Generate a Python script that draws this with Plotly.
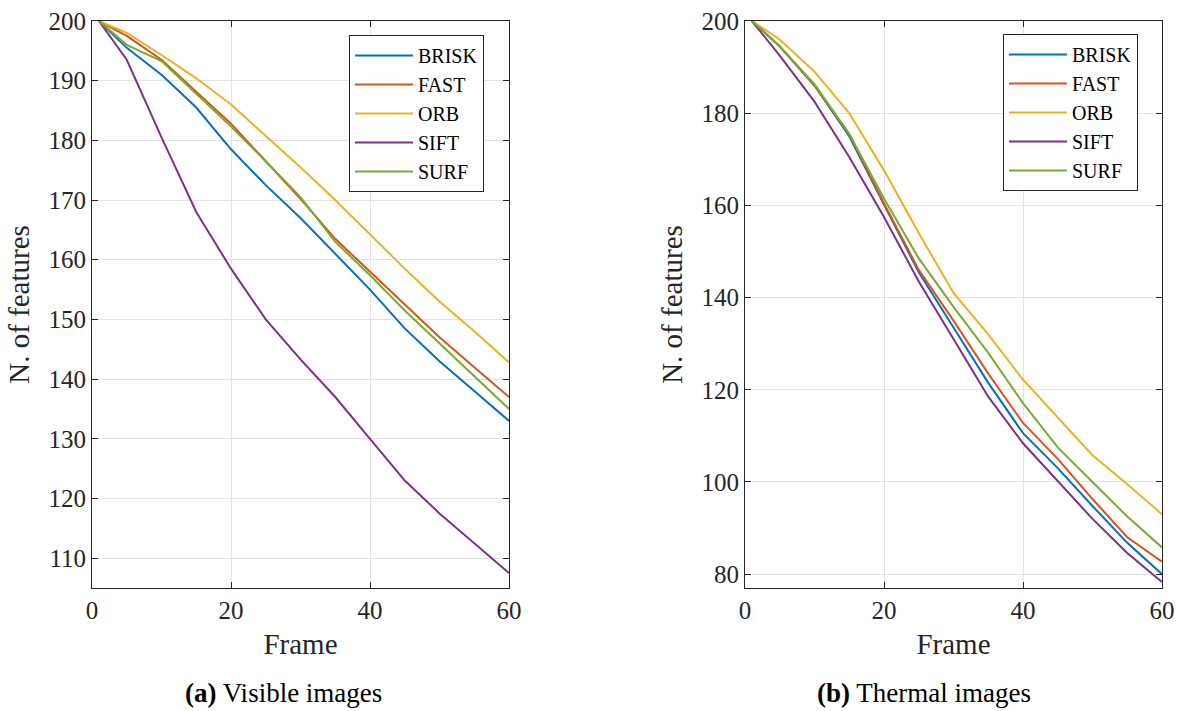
import plotly.graph_objects as go

# frames sampled from the curves
frames = [1, 5, 10, 15, 20, 25, 30, 35, 40, 45, 50, 55, 60]

# (a) visible images
vis_brisk = [200, 195.5, 191.0, 185.5, 178.5, 172.5, 167.0, 161.0, 155.0, 148.5, 143.0, 138.0, 133.0]
vis_fast = [200, 197.5, 193.5, 188.2, 182.8, 176.5, 170.2, 163.5, 158.0, 152.5, 147.0, 142.0, 137.0]
vis_orb = [200, 198.0, 194.3, 190.4, 186.0, 180.8, 175.5, 170.0, 164.2, 158.5, 153.0, 148.0, 142.8]
vis_sift = [200, 193.5, 180.5, 168.0, 158.5, 150.0, 143.3, 137.0, 130.0, 123.0, 117.5, 112.5, 107.5]
vis_surf = [200, 196.0, 193.3, 187.8, 182.3, 176.5, 170.5, 163.0, 157.4, 151.5, 146.0, 140.5, 135.0]

# (b) thermal images
th_brisk = [200, 194.5, 186.0, 175.0, 160.2, 145.5, 133.5, 121.5, 110.6, 103.0, 94.8, 86.8, 80.0]
th_fast = [200, 194.5, 186.0, 175.5, 160.4, 146.0, 135.0, 123.5, 112.8, 105.0, 96.3, 88.0, 82.7]
th_orb = [200, 196.0, 189.0, 180.0, 167.6, 154.0, 141.0, 132.0, 122.2, 114.0, 105.8, 99.5, 93.0]
th_sift = [200, 192.5, 182.5, 170.5, 157.5, 143.5, 131.0, 118.5, 108.4, 100.2, 92.0, 84.6, 78.3]
th_surf = [200, 194.5, 186.3, 175.5, 161.5, 148.5, 138.0, 128.0, 117.1, 107.5, 100.0, 92.5, 85.8]

names = ['BRISK', 'FAST', 'ORB', 'SIFT', 'SURF']
colors = ['#0072BD', '#D95319', '#EDB120', '#7E2F8E', '#77AC30']

left_ticks = [110, 120, 130, 140, 150, 160, 170, 180, 190, 200]
right_ticks = [80, 100, 120, 140, 160, 180, 200]
x_ticks = [0, 20, 40, 60]

FONT = 'Liberation Serif, DejaVu Serif, serif'
AXIS_COLOR = '#262626'
GRID_COLOR = '#e3e3e3'
W, H = 1178, 711


def px(x):
    return x / W


def py(y):
    return 1 - y / H


fig = go.Figure()

visible = [vis_brisk, vis_fast, vis_orb, vis_sift, vis_surf]
thermal = [th_brisk, th_fast, th_orb, th_sift, th_surf]

for name, color, ys in zip(names, colors, visible):
    fig.add_trace(go.Scatter(
        x=frames, y=ys, name=name, mode='lines',
        line=dict(color=color, width=2),
        xaxis='x', yaxis='y', legend='legend'
    ))

for name, color, ys in zip(names, colors, thermal):
    fig.add_trace(go.Scatter(
        x=frames, y=ys, name=name, mode='lines',
        line=dict(color=color, width=2),
        xaxis='x2', yaxis='y2', legend='legend2'
    ))

y_dom = [py(588), py(21)]

axis_common = dict(
    showline=True, linecolor=AXIS_COLOR, linewidth=1, mirror='allticks',
    ticks='inside', ticklen=6, tickcolor=AXIS_COLOR, tickwidth=1,
    showgrid=True, gridcolor=GRID_COLOR, gridwidth=1, zeroline=False,
    automargin=False, ticklabeloverflow='allow',
    tickfont=dict(family=FONT, size=25, color=AXIS_COLOR),
    title_font=dict(family=FONT, size=29, color=AXIS_COLOR),
)

legend_common = dict(
    bgcolor='white', bordercolor=AXIS_COLOR, borderwidth=1,
    font=dict(family=FONT, size=20, color='black'),
    xanchor='left', yanchor='top', tracegroupgap=0, itemwidth=58,
)

fig.update_layout(
    template='none',
    width=W, height=H,
    margin=dict(l=0, r=0, t=0, b=0),
    paper_bgcolor='white', plot_bgcolor='white',
    xaxis=dict(domain=[px(92), px(509)], range=[0, 60], tickvals=x_ticks,
               title=dict(text='Frame', standoff=10), anchor='y', **axis_common),
    yaxis=dict(domain=y_dom, range=[105, 200], tickvals=left_ticks,
               title=dict(text='N. of features', standoff=10), anchor='x', **axis_common),
    xaxis2=dict(domain=[px(745), px(1162)], range=[0, 60], tickvals=x_ticks,
                title=dict(text='Frame', standoff=10), anchor='y2', **axis_common),
    yaxis2=dict(domain=y_dom, range=[77, 200], tickvals=right_ticks,
                title=dict(text='N. of features', standoff=10), anchor='x2', **axis_common),
    legend=dict(x=px(349), y=py(35), **legend_common),
    legend2=dict(x=px(1003), y=py(34), **legend_common),
    annotations=[
        dict(text='<b>(a)</b> Visible images', x=px(283), y=py(693),
             xref='paper', yref='paper', showarrow=False, xanchor='center', yanchor='middle',
             font=dict(family=FONT, size=27, color='black')),
        dict(text='<b>(b)</b> Thermal images', x=px(924), y=py(693),
             xref='paper', yref='paper', showarrow=False, xanchor='center', yanchor='middle',
             font=dict(family=FONT, size=27, color='black')),
    ],
)

# drop the default page margin so the figure fills the window exactly
fig.write_html('out.html', config={'displayModeBar': False},
               post_script="document.body.style.margin = '0';")
